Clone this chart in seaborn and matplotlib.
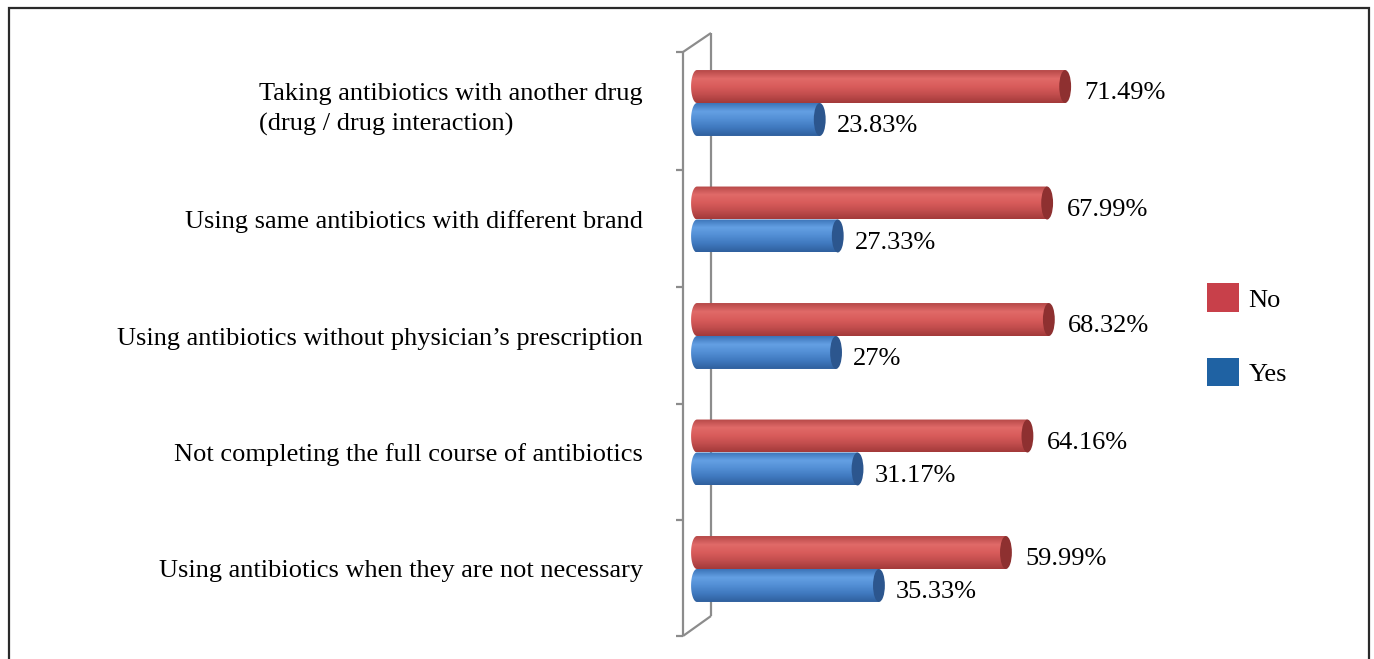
import numpy as np
import pandas as pd
import seaborn as sns
import matplotlib
matplotlib.use("Agg")
import matplotlib.pyplot as plt
from matplotlib.path import Path
from matplotlib.patches import PathPatch, Ellipse, Rectangle, Patch
from matplotlib.lines import Line2D

# ---------------- data ----------------
categories = [
    "Taking antibiotics with another drug\n(drug / drug interaction)",
    "Using same antibiotics with different brand",
    "Using antibiotics without physician\u2019s prescription",
    "Not completing the full course of antibiotics",
    "Using antibiotics when they are not necessary",
]
no_values = [71.49, 67.99, 68.32, 64.16, 59.99]
yes_values = [23.83, 27.33, 27, 31.17, 35.33]
no_labels = ["71.49%", "67.99%", "68.32%", "64.16%", "59.99%"]
yes_labels = ["23.83%", "27.33%", "27%", "31.17%", "35.33%"]
series = ["No", "Yes"]

df = pd.DataFrame({
    "Item": categories * 2,
    "Response": ["No"] * len(categories) + ["Yes"] * len(categories),
    "Percent": no_values + yes_values,
})

# ---------------- style ----------------
sns.set_theme(style="white")
plt.rcParams["font.family"] = ["Liberation Serif", "DejaVu Serif"]
FS = 19

legend_colors = {"No": "#C8404A", "Yes": "#1F62A3"}
body_grad = {
    "No": ["#B64848", "#E06A68", "#D95C5B", "#C14D4D", "#A33A3A"],
    "Yes": ["#3C74B8", "#64A0E4", "#528ED4", "#3F78BE", "#2F609E"],
}
cap_color = {"No": "#8E3030", "Yes": "#2C568E"}

W, H = 1374, 659
fig = plt.figure(figsize=(W / 100, H / 100), dpi=100)

def fx(px):
    return px / W

def fy(py):
    return 1 - py / H

ax_left, ax_right = 683, 1190
ax_top, ax_bot = 44.75, 627.25
ax = fig.add_axes([fx(ax_left), fy(ax_bot), fx(ax_right - ax_left), (ax_bot - ax_top) / H])

sns.barplot(data=df, y="Item", x="Percent", hue="Response", hue_order=series,
            palette=legend_colors, orient="h", width=0.566, ax=ax,
            legend=False, errorbar=None, zorder=3)

# x-scale: 0 at px 697, 5.15 px per percent
x0_px, scale = 697, 5.15
ax.set_xlim((ax_left - x0_px) / scale, (ax_right - x0_px) / scale)
ax.set_ylim(len(categories) - 0.5, -0.5)

# ---------------- wall (3D axis frame) ----------------
gray = "#8C8C8C"
wall = [((683, 52), (683, 636)), ((711, 33), (711, 616)),
        ((683, 52), (711, 33)), ((683, 636), (711, 616))]
for tick_y in [52, 170, 287, 404, 520, 636]:
    wall.append(((676, tick_y), (683, tick_y)))
for (x1, y1), (x2, y2) in wall:
    ax.add_line(Line2D([fx(x1), fx(x2)], [fy(y1), fy(y2)], transform=fig.transFigure,
                       color=gray, lw=1.6, clip_on=False, zorder=1,
                       solid_capstyle="butt"))

# ---------------- cylinders ----------------
cap_a = 1.15  # half width of end ellipse in data units
grad_n = 64
for cont, name in zip(ax.containers, series):
    cmap = matplotlib.colors.LinearSegmentedColormap.from_list(name + "g", body_grad[name])
    grad = np.linspace(0, 1, grad_n).reshape(-1, 1)
    for p in cont:
        p.set_alpha(0)
        y = p.get_y()
        h = p.get_height()
        v = p.get_width()
        c = y + h / 2
        b = h / 2
        t = np.linspace(0, np.pi, 40)
        arc = list(zip(-cap_a * np.sin(t), c + b * np.cos(t)))
        verts = [(0, c - b), (v, c - b), (v, c + b), (0, c + b)] + arc + [(0, c - b)]
        codes = [Path.MOVETO] + [Path.LINETO] * (len(verts) - 2) + [Path.CLOSEPOLY]
        clip = PathPatch(Path(verts, codes), transform=ax.transData,
                         facecolor="none", edgecolor="none")
        ax.add_patch(clip)
        im = ax.imshow(grad, cmap=cmap, aspect="auto",
                       extent=(-cap_a, v, c + b, c - b), zorder=3,
                       interpolation="bilinear")
        im.set_clip_path(clip)
        ax.add_patch(Ellipse((v, c), 2 * cap_a, h, facecolor=cap_color[name],
                             edgecolor="none", zorder=4))

t_no = ax.bar_label(ax.containers[0], labels=no_labels, padding=13, fontsize=FS,
                    color="black", zorder=5)
t_yes = ax.bar_label(ax.containers[1], labels=yes_labels, padding=12, fontsize=FS,
                     color="black", zorder=5)
for t in t_no:
    t.xyann = (14, -5)
for t in t_yes:
    t.xyann = (12, -5)

# ---------------- axes cosmetics ----------------
for s in ax.spines.values():
    s.set_visible(False)
ax.set_xticks([])
ax.set_xlabel("")
ax.set_ylabel("")
ax.tick_params(axis="y", length=0, pad=29, labelsize=FS)
for lab in ax.get_yticklabels():
    lab.set_multialignment("left")
    lab.set_linespacing(1.45)
    lab.set_color("black")

# ---------------- legend ----------------
handles = [Patch(facecolor=legend_colors[s], edgecolor="none") for s in series]
fig.legend(handles, series, loc="upper left",
           bbox_to_anchor=(fx(1189), fy(265)), frameon=False,
           fontsize=FS, handlelength=1.21, handleheight=1.28,
           handletextpad=0.35, labelspacing=1.73, borderpad=0.2,
           labelcolor="black")

# ---------------- outer border ----------------
fig.add_artist(Rectangle((fx(8.5), fy(680)), fx(1368.5 - 8.5), (680 - 8.5) / H,
                         transform=fig.transFigure, fill=False,
                         edgecolor="#2A2A2A", lw=1.6))

fig.savefig("out.png", dpi=100, facecolor="white")
